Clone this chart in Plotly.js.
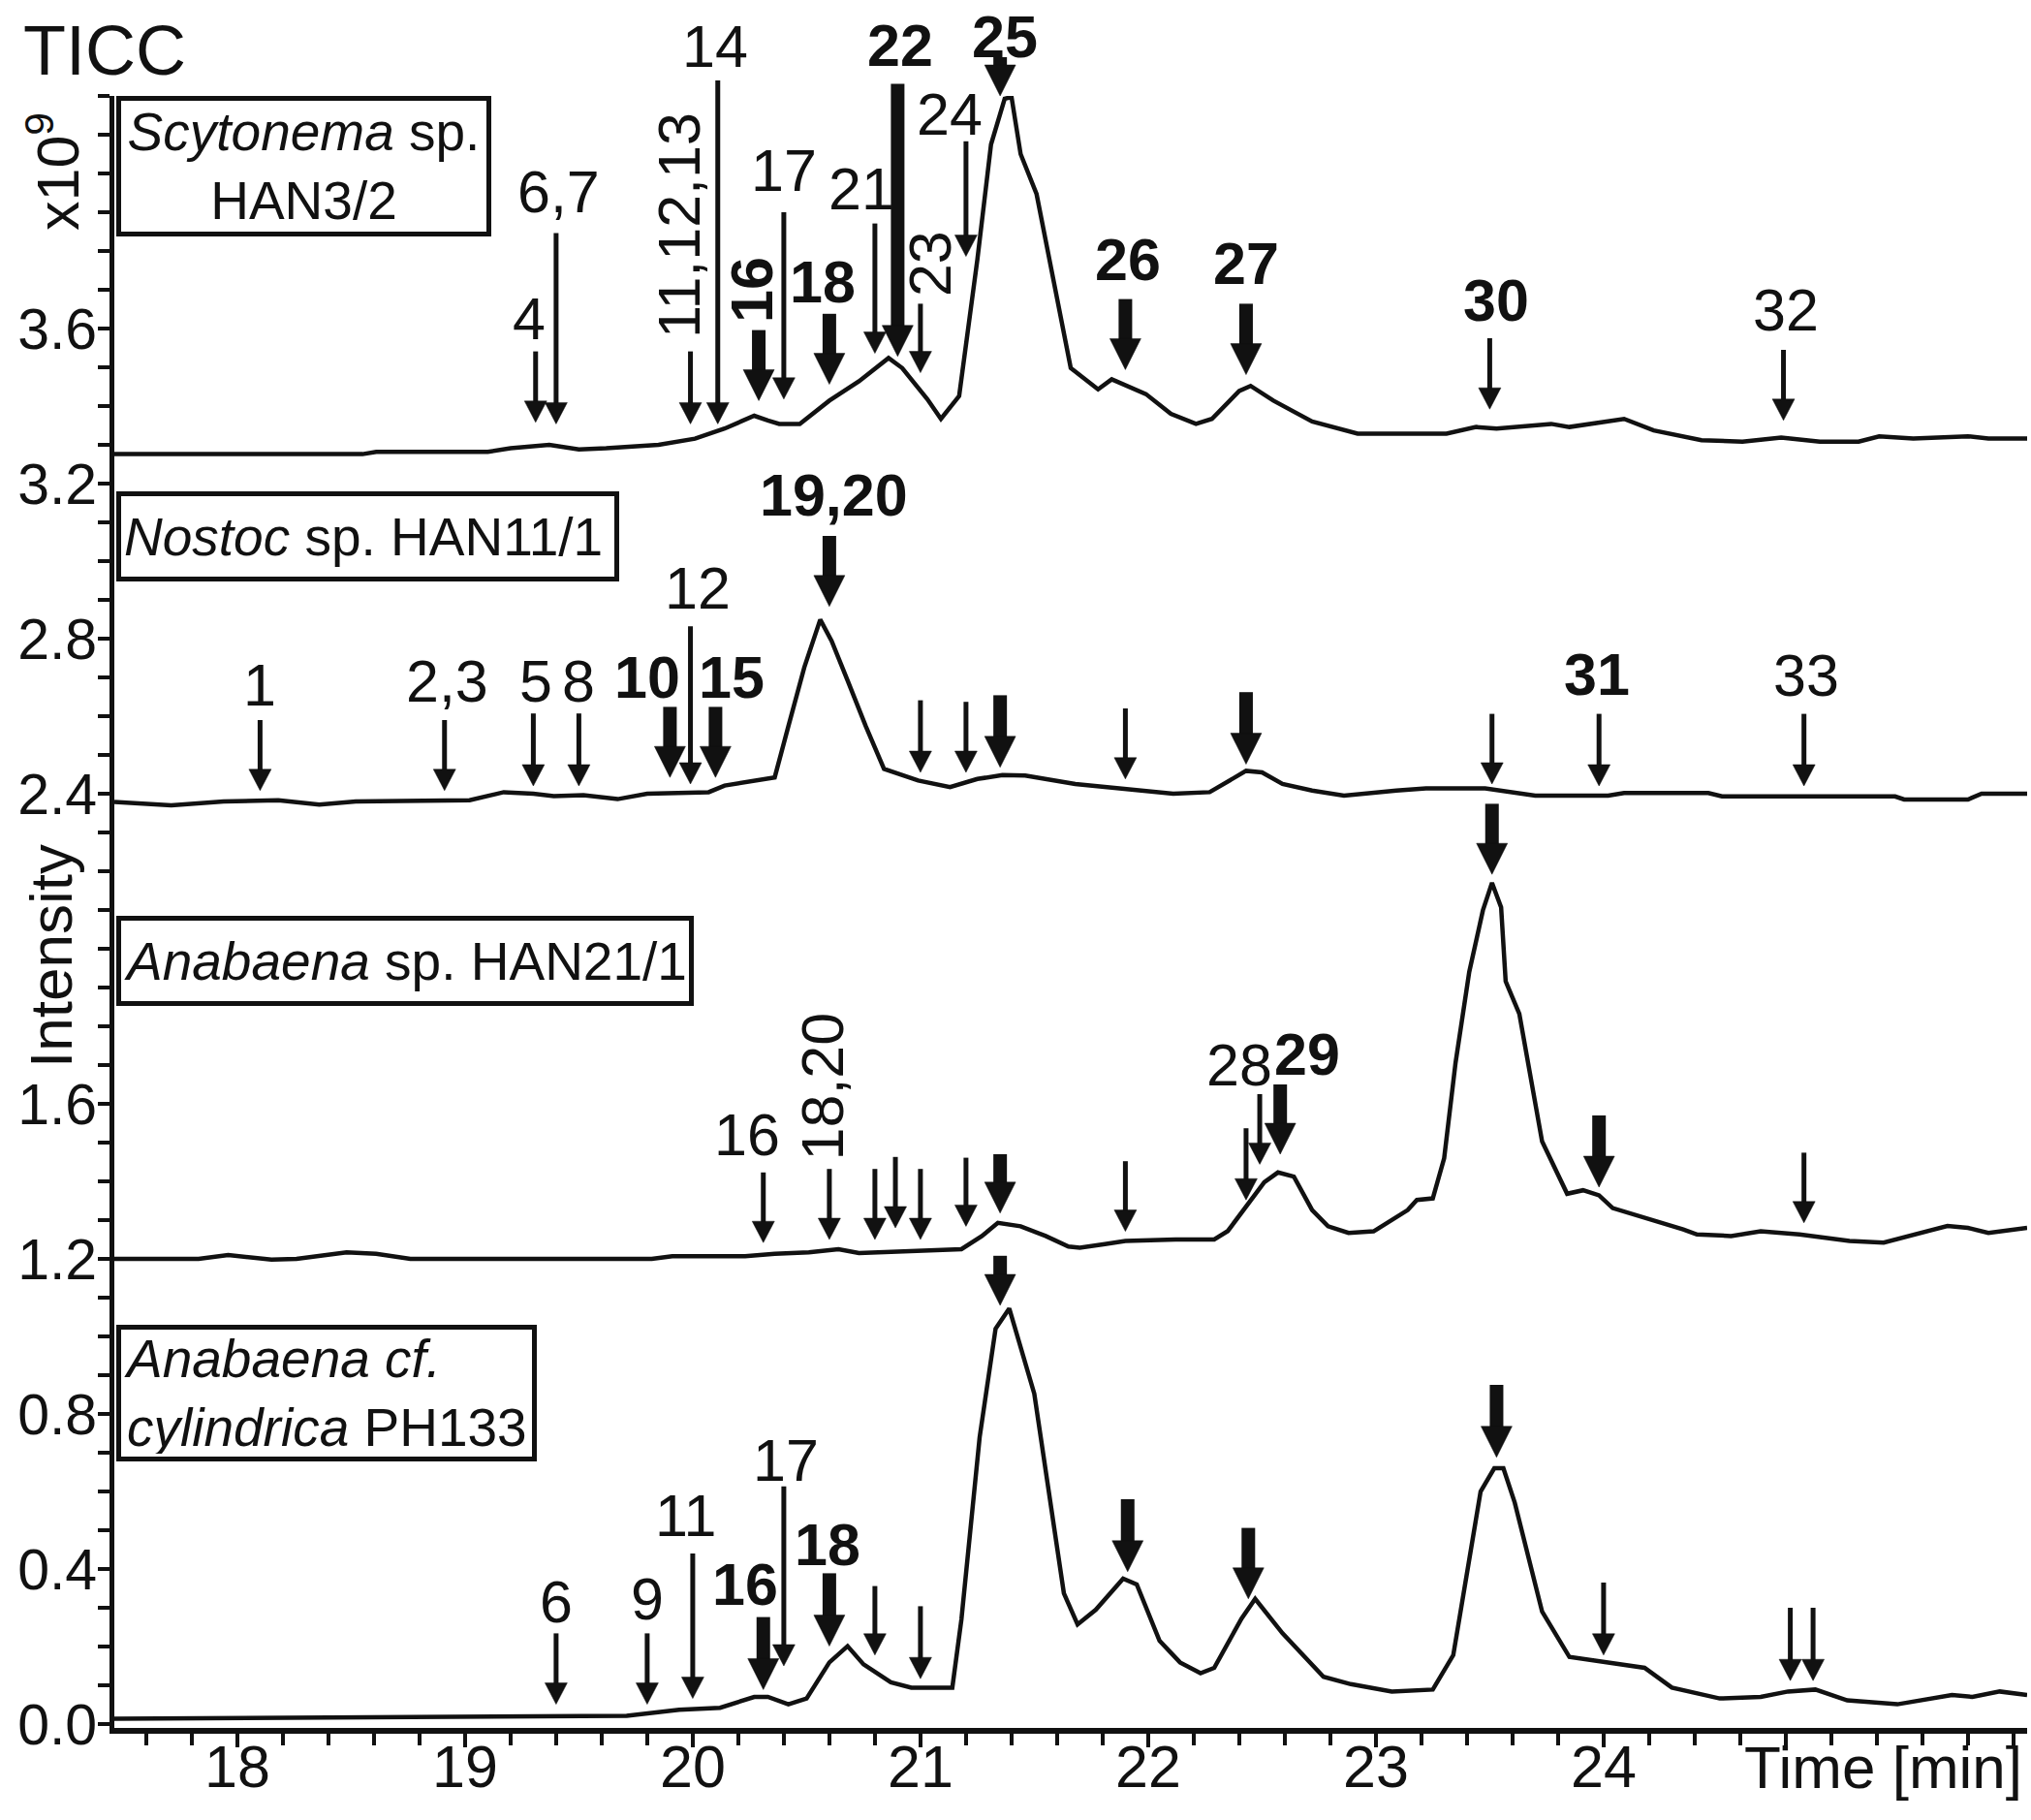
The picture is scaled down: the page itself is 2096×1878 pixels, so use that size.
<!DOCTYPE html>
<html>
<head>
<meta charset="utf-8">
<script src="https://cdn.plot.ly/plotly-3.0.1.min.js"></script>
<style>html,body{margin:0;padding:0;background:#fff;}#chart{width:2096px;height:1878px;}</style>
</head>
<body>
<div id="chart"></div>
<script>
// ---------------- data (time in min, intensity in 1e9 counts) ----------------
const scytT = [17.46,18.55,18.61,19.10,19.20,19.37,19.50,19.62,19.85,20.01,20.14,20.27,20.33,20.38,20.47,20.60,20.73,20.86,20.92,21.03,21.09,21.17,21.25,21.31,21.37,21.40,21.44,21.51,21.66,21.78,21.84,21.99,22.10,22.21,22.28,22.40,22.45,22.55,22.72,22.92,23.31,23.44,23.53,23.77,23.85,24.09,24.22,24.43,24.61,24.78,24.95,25.12,25.21,25.36,25.60,25.69,25.86];
const scytV = [3.276,3.276,3.282,3.282,3.291,3.300,3.288,3.291,3.300,3.316,3.342,3.375,3.363,3.354,3.354,3.414,3.464,3.524,3.498,3.418,3.367,3.426,3.778,4.075,4.193,4.197,4.050,3.947,3.498,3.443,3.469,3.431,3.380,3.354,3.367,3.439,3.452,3.414,3.360,3.329,3.329,3.346,3.342,3.354,3.346,3.367,3.337,3.312,3.308,3.319,3.308,3.308,3.322,3.316,3.322,3.316,3.316];

const nostT = [17.46,17.71,17.94,18.18,18.36,18.52,19.02,19.17,19.30,19.39,19.52,19.67,19.80,20.07,20.14,20.36,20.42,20.49,20.56,20.61,20.68,20.76,20.84,20.99,21.13,21.25,21.36,21.46,21.68,21.90,22.11,22.27,22.43,22.50,22.59,22.72,22.86,23.09,23.22,23.48,23.70,24.02,24.09,24.46,24.52,25.28,25.32,25.60,25.66,25.86];
const nostV = [2.379,2.370,2.380,2.383,2.372,2.380,2.383,2.404,2.400,2.394,2.396,2.386,2.400,2.404,2.421,2.442,2.574,2.726,2.849,2.794,2.692,2.574,2.464,2.434,2.417,2.438,2.448,2.447,2.425,2.413,2.400,2.404,2.459,2.455,2.425,2.408,2.395,2.408,2.414,2.414,2.395,2.395,2.402,2.402,2.393,2.393,2.385,2.385,2.400,2.400];

const anaT = [17.46,17.83,17.96,18.15,18.26,18.48,18.61,18.76,19.82,19.91,20.23,20.36,20.51,20.64,20.73,20.92,21.18,21.27,21.34,21.44,21.55,21.65,21.70,21.81,21.90,22.12,22.29,22.35,22.44,22.51,22.57,22.64,22.72,22.79,22.88,22.99,23.14,23.18,23.25,23.30,23.35,23.41,23.47,23.51,23.55,23.57,23.63,23.73,23.84,23.91,23.98,24.04,24.35,24.41,24.56,24.69,24.86,25.08,25.23,25.36,25.51,25.60,25.69,25.86];
const anaV = [1.200,1.200,1.210,1.198,1.200,1.217,1.213,1.200,1.200,1.207,1.207,1.213,1.217,1.225,1.215,1.219,1.225,1.259,1.293,1.284,1.259,1.232,1.229,1.238,1.246,1.250,1.250,1.272,1.343,1.398,1.423,1.412,1.326,1.284,1.267,1.271,1.326,1.352,1.356,1.460,1.706,1.940,2.099,2.170,2.107,1.916,1.832,1.503,1.368,1.377,1.364,1.331,1.276,1.263,1.259,1.271,1.263,1.246,1.242,1.263,1.285,1.280,1.267,1.280];

const cylT = [17.46,19.17,19.71,19.94,20.12,20.27,20.33,20.42,20.50,20.60,20.68,20.75,20.87,20.96,21.14,21.18,21.26,21.33,21.39,21.50,21.63,21.69,21.77,21.89,21.95,22.05,22.14,22.23,22.29,22.41,22.47,22.59,22.68,22.77,22.89,23.07,23.25,23.34,23.46,23.52,23.56,23.61,23.73,23.85,24.18,24.30,24.51,24.69,24.81,24.93,25.07,25.29,25.53,25.62,25.74,25.86];
const cylV = [0.014,0.019,0.021,0.037,0.042,0.070,0.070,0.051,0.066,0.159,0.201,0.154,0.108,0.094,0.094,0.270,0.740,1.020,1.072,0.852,0.337,0.257,0.295,0.375,0.360,0.215,0.159,0.131,0.145,0.272,0.323,0.234,0.178,0.122,0.103,0.084,0.089,0.178,0.600,0.660,0.660,0.571,0.290,0.173,0.145,0.094,0.066,0.070,0.084,0.089,0.061,0.051,0.075,0.070,0.084,0.075];

// arrows: [time, tip value, tail value, kind (0 thin, 1 bold)]
const scytArrows = [[19.31,3.358,3.541,0],[19.40,3.354,3.846,0],[19.99,3.354,3.541,0],[20.11,3.354,4.240,0],[20.29,3.414,3.596,1],[20.40,3.418,3.900,0],[20.60,3.456,3.638,1],[20.80,3.536,3.871,0],[20.90,3.528,4.231,1],[21.00,3.486,3.664,0],[21.20,3.786,4.083,0],[21.35,4.200,4.300,1],[21.90,3.494,3.676,1],[22.43,3.481,3.664,1],[23.50,3.392,3.575,0],[24.79,3.363,3.545,0]];
const nostArrows = [[18.10,2.408,2.590,0],[18.91,2.408,2.590,0],[19.30,2.420,2.607,0],[19.50,2.420,2.607,0],[19.90,2.442,2.624,1],[19.99,2.425,2.832,0],[20.10,2.442,2.624,1],[20.60,2.883,3.065,1],[21.00,2.455,2.641,0],[21.20,2.455,2.637,0],[21.35,2.468,2.654,1],[21.90,2.438,2.620,0],[22.43,2.476,2.662,1],[23.51,2.425,2.606,0],[23.98,2.420,2.606,0],[24.88,2.420,2.606,0]];
const anaArrows = [[20.31,1.242,1.423,0],[20.60,1.250,1.432,0],[20.80,1.250,1.432,0],[20.89,1.280,1.463,0],[21.00,1.250,1.432,0],[21.20,1.284,1.461,0],[21.35,1.318,1.470,1],[21.90,1.271,1.452,0],[22.43,1.352,1.537,0],[22.49,1.444,1.625,0],[22.58,1.470,1.650,1],[23.51,2.192,2.374,1],[23.98,1.385,1.570,1],[24.88,1.293,1.474,0]];
const cylArrows = [[19.40,0.051,0.234,0],[19.80,0.051,0.234,0],[20.00,0.066,0.440,0],[20.31,0.089,0.276,1],[20.40,0.150,0.613,0],[20.60,0.201,0.389,1],[20.80,0.178,0.356,0],[21.00,0.117,0.304,0],[21.35,1.080,1.208,1],[21.91,0.393,0.580,1],[22.44,0.323,0.506,1],[23.53,0.688,0.875,1],[24.00,0.178,0.365,0],[24.82,0.112,0.300,0],[24.92,0.112,0.300,0]];

// peak labels: [text, time, value, bold, angle]
const scytLabels = [['4',19.28,3.625,0,0],['6,7',19.41,3.952,0,0],['11,12,13',19.94,3.867,0,-90],['14',20.10,4.327,0,0],['16',20.26,3.700,1,-90],['17',20.40,4.007,0,0],['18',20.57,3.720,1,0],['21',20.74,3.960,0,0],['22',20.91,4.330,1,0],['23',21.04,3.768,0,-90],['24',21.13,4.153,0,0],['25',21.37,4.352,1,0],['26',21.91,3.778,1,0],['27',22.43,3.768,1,0],['30',23.53,3.672,1,0],['32',24.80,3.647,0,0]];
const nostLabels = [['1',18.10,2.680,0,0],['2,3',18.92,2.690,0,0],['5',19.31,2.690,0,0],['8',19.50,2.690,0,0],['10',19.80,2.700,1,0],['12',20.02,2.930,0,0],['15',20.17,2.700,1,0],['19,20',20.62,3.170,1,0],['31',23.97,2.708,1,0],['33',24.89,2.704,0,0]];
const anaLabels = [['16',20.24,1.520,0,0],['18,20',20.57,1.646,0,-90],['28',22.40,1.699,0,0],['29',22.70,1.727,1,0]];
const cylLabels = [['6',19.40,0.314,0,0],['9',19.80,0.323,0,0],['11',19.97,0.538,0,0],['16',20.23,0.360,1,0],['17',20.41,0.679,0,0],['18',20.59,0.463,1,0]];

// sample boxes: [html text, top value]
const boxTexts = ['<i>Scytonema</i> sp.<br>HAN3/2', '<i>Nostoc</i> sp. HAN11/1', '<i>Anabaena</i> sp. HAN21/1', '<i>Anabaena cf.</i><br><i>cylindrica</i> PH133'];
const boxTops = [4.200, 3.180, 2.085, 1.030];

const xTickVals = [18,19,20,21,22,23,24];
const xTickText = ['18','19','20','21','22','23','24'];
const yTickVals = [0,0.4,0.8,1.2,1.6,2.4,2.8,3.2,3.6];
const yTickText = ['0.0','0.4','0.8','1.2','1.6','2.4','2.8','3.2','3.6'];

// ---------------- layout geometry ----------------
const W = 2096, H = 1878, ML = 118, MR = 4, MT = 99, MB = 95;
const PW = W - ML - MR, PH = H - MT - MB;
const X0 = 17.46, X1 = 25.86, Y0 = -0.01, Y1 = 4.2;
const FONT = 'Liberation Sans, Arial, Helvetica, sans-serif';
const xp = t => (t - X0) / (X1 - X0);
const yp = v => (v - Y0) / (Y1 - Y0);

const styles = [ {shaft: 5, headW: 23, headL: 22}, {shaft: 14, headW: 32, headL: 32} ];

const shapes = [];
const annotations = [];

function addArrows(list) {
  list.forEach(a => {
    const [t, tip, tail, kind] = a;
    const s = styles[kind];
    const x = xp(t), yt = yp(tip), yl = yp(tail);
    const hl = s.headL / PH, hw = (s.headW / 2) / PW;
    shapes.push({type: 'line', xref: 'paper', yref: 'paper', x0: x, x1: x, y0: yl, y1: yt + hl * 0.7,
                 line: {color: '#111', width: s.shaft}});
    shapes.push({type: 'path', xref: 'paper', yref: 'paper',
                 path: `M ${x - hw} ${yt + hl} L ${x + hw} ${yt + hl} L ${x} ${yt} Z`,
                 fillcolor: '#111', line: {color: '#111', width: 0.5}});
  });
}
function addLabels(list) {
  list.forEach(l => {
    const [txt, t, v, bold, ang] = l;
    annotations.push({xref: 'paper', yref: 'paper', x: xp(t), y: yp(v), xanchor: 'center', yanchor: 'middle',
      text: bold ? '<b>' + txt + '</b>' : txt, showarrow: false, textangle: ang,
      font: {family: FONT, size: 61, color: '#111'}});
  });
}
[scytArrows, nostArrows, anaArrows, cylArrows].forEach(addArrows);
[scytLabels, nostLabels, anaLabels, cylLabels].forEach(addLabels);

// sample boxes
const boxW = [371, 503, 580, 418];
const boxH = [129, 77, 77, 125];
const boxAlign = ['center', 'left', 'left', 'left'];
boxTexts.forEach((txt, i) => {
  annotations.push({xref: 'paper', yref: 'paper', x: 0.001, y: yp(boxTops[i]), xanchor: 'left', yanchor: 'top',
    text: txt, showarrow: false, align: boxAlign[i], valign: 'middle', width: boxW[i], height: boxH[i],
    bordercolor: '#111', borderwidth: 5, borderpad: 3, bgcolor: '#fff',
    font: {family: FONT, size: 55, color: '#111'}});
});

// axis texts
annotations.push({xref: 'paper', yref: 'paper', x: (108 - ML) / PW, y: (H - MB - 52) / PH, xanchor: 'center', yanchor: 'middle',
  text: 'TICC', showarrow: false, font: {family: FONT, size: 72, color: '#111'}});
annotations.push({xref: 'paper', yref: 'paper', x: (55 - ML) / PW, y: (H - MB - 177) / PH, xanchor: 'center', yanchor: 'middle',
  text: 'x10<sup>9</sup>', textangle: -90, showarrow: false, font: {family: FONT, size: 61, color: '#111'}});
annotations.push({xref: 'paper', yref: 'paper', x: (52 - ML) / PW, y: yp(1.98), xanchor: 'center', yanchor: 'middle',
  text: 'Intensity', textangle: -90, showarrow: false, font: {family: FONT, size: 62, color: '#111'}});
annotations.push({xref: 'paper', yref: 'paper', x: xp(25.23), y: (H - MB - 1824) / PH, xanchor: 'center', yanchor: 'middle',
  text: 'Time [min]', showarrow: false, font: {family: FONT, size: 62, color: '#111'}});

const lineStyle = {color: '#111', width: 4.5};
const traces = [
  {x: scytT, y: scytV, name: 'Scytonema sp. HAN3/2'},
  {x: nostT, y: nostV, name: 'Nostoc sp. HAN11/1'},
  {x: anaT, y: anaV, name: 'Anabaena sp. HAN21/1'},
  {x: cylT, y: cylV, name: 'Anabaena cf. cylindrica PH133'}
].map(d => Object.assign(d, {type: 'scatter', mode: 'lines', line: lineStyle, hoverinfo: 'skip', showlegend: false}));

const layout = {
  width: W, height: H,
  margin: {l: ML, r: MR, t: MT, b: MB, pad: 0},
  paper_bgcolor: '#fff', plot_bgcolor: '#fff',
  font: {family: FONT, color: '#111'},
  showlegend: false,
  xaxis: {range: [X0, X1], showgrid: false, zeroline: false, showline: true, linecolor: '#111', linewidth: 6,
    ticks: 'outside', ticklen: 14, tickwidth: 4, tickcolor: '#111', tickmode: 'array', tickvals: xTickVals, ticktext: xTickText,
    tickfont: {family: FONT, size: 61, color: '#111'}, ticklabelstandoff: -32,
    minor: {tickmode: 'linear', tick0: 0, dtick: 0.2, ticks: 'outside', ticklen: 12, tickwidth: 4, tickcolor: '#111', showgrid: false}},
  yaxis: {range: [Y0, Y1], showgrid: false, zeroline: false, showline: true, linecolor: '#111', linewidth: 5,
    ticks: 'outside', ticklen: 12, tickwidth: 4, tickcolor: '#111', tickmode: 'array', tickvals: yTickVals, ticktext: yTickText,
    tickfont: {family: FONT, size: 59, color: '#111'}, ticklabelstandoff: -11,
    minor: {tickmode: 'linear', tick0: 0, dtick: 0.1, ticks: 'outside', ticklen: 12, tickwidth: 4, tickcolor: '#111', showgrid: false}},
  shapes: shapes,
  annotations: annotations
};

Plotly.newPlot('chart', traces, layout, {staticPlot: true, displayModeBar: false});
</script>
</body>
</html>
